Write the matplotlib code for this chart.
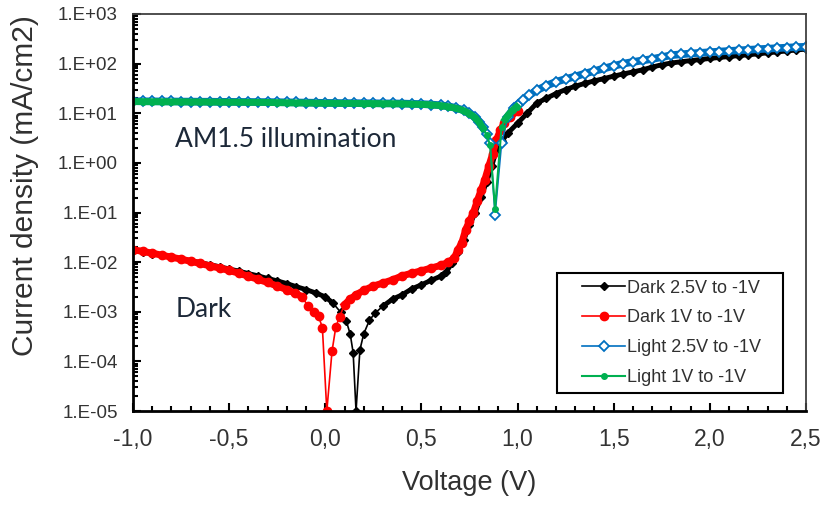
import numpy as np
import matplotlib
matplotlib.use('Agg')
import matplotlib.pyplot as plt
from matplotlib.patches import Rectangle
from matplotlib.ticker import LogLocator, MultipleLocator, FuncFormatter, NullFormatter

plt.rcParams['font.family'] = ['Liberation Sans', 'DejaVu Sans']

# Dark, sweep 2.5 V to -1 V
v_dark25 = [-1.0, -0.95, -0.9, -0.85, -0.8, -0.75, -0.7, -0.65, -0.6, -0.55, -0.5, -0.45,
            -0.4, -0.35, -0.3, -0.25, -0.2, -0.15, -0.1, -0.05, 0.0, 0.04, 0.08, 0.11, 0.13,
            0.145, 0.16, 0.18, 0.2, 0.23, 0.26, 0.3, 0.35, 0.4, 0.45, 0.5, 0.55, 0.6, 0.63,
            0.66, 0.69, 0.72, 0.75, 0.78, 0.81, 0.84, 0.865, 0.89, 0.92, 0.95, 1.0, 1.05, 1.1,
            1.15, 1.2, 1.25, 1.3, 1.35, 1.4, 1.45, 1.5, 1.55, 1.6, 1.65, 1.7, 1.75, 1.8, 1.85,
            1.9, 1.95, 2.0, 2.05, 2.1, 2.15, 2.2, 2.25, 2.3, 2.35, 2.4, 2.45, 2.5]
j_dark25 = [0.0175, 0.0160, 0.0148, 0.0137, 0.0127, 0.0117, 0.0107, 0.0098, 0.0089, 0.0081,
            0.0073, 0.0066, 0.0059, 0.0053, 0.0047, 0.0042, 0.0037, 0.0032, 0.0028, 0.0024,
            0.0020, 0.0015, 0.00098, 0.00064, 0.00035, 0.00015, 0.00001, 0.00017, 0.00036,
            0.00068, 0.00095, 0.0013, 0.0018, 0.0022, 0.0029, 0.0035, 0.0043, 0.0052, 0.0064,
            0.0098, 0.016, 0.028, 0.055, 0.10, 0.21, 0.42, 0.85, 1.8, 2.8, 4.0, 6.3, 10, 16,
            20, 25, 30, 35, 40, 45, 50, 56, 62, 68, 75, 85, 95, 103, 109, 115, 121, 127, 133,
            139, 145, 151, 157, 165, 172, 180, 188, 196]

# Dark, sweep 1 V to -1 V
v_dark1 = [-1.0, -0.95, -0.9, -0.85, -0.8, -0.75, -0.7, -0.65, -0.6, -0.55, -0.5, -0.45, -0.4,
           -0.35, -0.3, -0.25, -0.2, -0.16, -0.12, -0.09, -0.06, -0.035, -0.015, 0.008, 0.035,
           0.055, 0.075, 0.1, 0.13, 0.16, 0.2, 0.25, 0.3, 0.35, 0.4, 0.45, 0.5, 0.55, 0.6,
           0.64, 0.67, 0.69, 0.71, 0.73, 0.75, 0.77, 0.79, 0.81, 0.83, 0.85, 0.87, 0.89, 0.91,
           0.93, 0.96, 1.0]
j_dark1 = [0.0178, 0.0165, 0.0152, 0.0138, 0.0126, 0.0115, 0.0104, 0.0094, 0.0084, 0.0076,
           0.0068, 0.0060, 0.0052, 0.0045, 0.0039, 0.0033, 0.0028, 0.0024, 0.0020, 0.0013,
           0.0010, 0.00081, 0.00048, 0.00001, 0.00016, 0.0005, 0.0008, 0.0014, 0.0018, 0.0022,
           0.0027, 0.0033, 0.0038, 0.0044, 0.0053, 0.0060, 0.0067, 0.0076, 0.0086, 0.0100,
           0.012, 0.0178, 0.0245, 0.045, 0.068, 0.098, 0.17, 0.28, 0.46, 0.85, 1.5, 2.9, 4.5,
           6.3, 8.5, 11]

# Light (AM1.5), sweep 2.5 V to -1 V
v_light25 = [-1.0, -0.95, -0.9, -0.85, -0.8, -0.75, -0.7, -0.65, -0.6, -0.55, -0.5, -0.45,
             -0.4, -0.35, -0.3, -0.25, -0.2, -0.15, -0.1, -0.05, 0.0, 0.05, 0.1, 0.15, 0.2,
             0.25, 0.3, 0.35, 0.4, 0.45, 0.5, 0.55, 0.6, 0.64, 0.68, 0.72, 0.75, 0.78, 0.8,
             0.82, 0.84, 0.857, 0.883, 0.917, 0.95, 0.98, 1.0, 1.03, 1.06, 1.1, 1.15, 1.2, 1.25,
             1.3, 1.35, 1.4, 1.45, 1.5, 1.55, 1.6, 1.65, 1.7, 1.75, 1.8, 1.85, 1.9, 1.95, 2.0,
             2.05, 2.1, 2.15, 2.2, 2.25, 2.3, 2.35, 2.4, 2.45, 2.5]
j_light25 = [17.5, 17.4, 17.4, 17.3, 17.3, 17.2, 17.2, 17.1, 17.1, 17.0, 17.0, 16.9, 16.9,
             16.8, 16.8, 16.7, 16.6, 16.5, 16.4, 16.3, 16.2, 16.1, 16.0, 16.0, 15.9, 15.9,
             15.8, 15.8, 15.7, 15.5, 15.3, 15.0, 14.5, 13.8, 12.8, 11.5, 10.0, 8.3, 6.8, 5.2,
             3.8, 2.5, 0.091, 2.5, 8.5, 13, 15, 18.6, 23, 29, 36, 43, 49, 55, 63, 71, 80, 90,
             100, 108, 116, 124, 135, 148, 154, 160, 165, 170, 175, 180, 185, 190, 195, 200,
             205, 210, 215, 219]

# Light (AM1.5), sweep 1 V to -1 V
v_light1 = [-1.0, -0.95, -0.9, -0.85, -0.8, -0.75, -0.7, -0.65, -0.6, -0.55, -0.5, -0.45,
            -0.4, -0.35, -0.3, -0.25, -0.2, -0.15, -0.1, -0.05, 0.0, 0.05, 0.1, 0.15, 0.2,
            0.25, 0.3, 0.35, 0.4, 0.45, 0.5, 0.55, 0.6, 0.64, 0.68, 0.72, 0.75, 0.78, 0.8,
            0.82, 0.84, 0.857, 0.883, 0.917, 0.935, 0.952, 0.975, 0.995]
j_light1 = [17.2, 17.2, 17.1, 17.1, 17.0, 17.0, 16.9, 16.9, 16.8, 16.8, 16.7, 16.7, 16.6,
            16.6, 16.5, 16.4, 16.3, 16.2, 16.1, 16.0, 15.9, 15.9, 15.8, 15.8, 15.7, 15.7,
            15.6, 15.6, 15.5, 15.3, 15.1, 14.8, 14.3, 13.6, 12.6, 11.3, 9.8, 8.1, 6.6, 5.0,
            3.6, 2.3, 0.12, 5.4, 7.5, 9.3, 11.5, 13.5]

labels = ['Dark 2.5V to -1V', 'Dark 1V to -1V', 'Light 2.5V to -1V', 'Light 1V to -1V']
yticks = [1e-5, 1e-4, 1e-3, 1e-2, 1e-1, 1e0, 1e1, 1e2, 1e3]
xticks = [-1.0, -0.5, 0.0, 0.5, 1.0, 1.5, 2.0, 2.5]


def band(v, j, lo, hi):
    # hide the sparse dip part so the dense measurement looks like a thick band
    v = np.asarray(v, float)
    j = np.asarray(j, float).copy()
    j[(v > lo) & (v < hi)] = np.nan
    return v, j


fig = plt.figure(figsize=(8.23, 5.05), dpi=100)
ax = fig.add_axes([0.1616, 0.186, 0.8177, 0.7863])

# thick bands (dense data points)
ax.plot(*band(v_dark25, j_dark25, 0.07, 0.27), color='black', lw=3.5, zorder=2)
ax.plot(*band(v_dark1, j_dark1, -0.11, 0.09), color='#ff0000', lw=5, zorder=2.1)
ax.plot(*band(v_light25, j_light25, 0.83, 0.93), color='#0070c0', lw=5.5, zorder=2.2)
ax.plot(*band(v_light1, j_light1, 0.83, 0.93), color='#00b050', lw=5, zorder=2.3)

ax.plot(v_dark25, j_dark25, color='black', lw=1.2, marker='D', ms=4, zorder=2,
        label=labels[0])
ax.plot(v_dark1, j_dark1, color='#ff0000', lw=1.2, marker='o', ms=6, zorder=2.1,
        label=labels[1])
ax.plot(v_light25, j_light25, color='#0070c0', lw=1.2, marker='D', ms=5, mfc='white',
        mew=1.3, zorder=2.2, label=labels[2])
ax.plot(v_light1, j_light1, color='#00b050', lw=1.5, marker='o', ms=4, zorder=2.3,
        label=labels[3])

ax.set_yscale('log')
ax.set_xlim(-1.0, 2.5)
ax.set_ylim(1e-5, 1e3)
ax.set_yticks(yticks)
ax.yaxis.set_minor_locator(LogLocator(base=10, subs=np.arange(2, 10), numticks=20))
ax.yaxis.set_minor_formatter(NullFormatter())
ax.yaxis.set_major_formatter(FuncFormatter(lambda y, p: '1.E%+03d' % int(round(np.log10(y)))))
ax.set_xticks(xticks)
ax.xaxis.set_minor_locator(MultipleLocator(0.1))
ax.xaxis.set_major_formatter(FuncFormatter(lambda x, p: ('%.1f' % x).replace('.', ',')))

ax.tick_params(which='both', direction='in', top=False, right=False, width=1.5,
               labelcolor='#333333')
ax.tick_params(which='major', length=6)
ax.tick_params(which='minor', length=3.5)
ax.tick_params(axis='x', labelsize=16.5, pad=12)
ax.tick_params(axis='y', labelsize=13.5, pad=11)

for s in ['left', 'bottom']:
    ax.spines[s].set_linewidth(2)
for s in ['top', 'right']:
    ax.spines[s].set_linewidth(1.3)
    ax.spines[s].set_color('#404040')

ax.set_xlabel('Voltage (V)', fontsize=19.5, labelpad=14, color='#303030')
ax.set_ylabel('Current density (mA/cm2)', fontsize=21.5, color='#303030')
ax.yaxis.set_label_coords(-0.139, 0.567)

ax.text(-0.78, 3.0, 'AM1.5 illumination', fontsize=19, family='Lato', color='#1c2838',
        va='center')
ax.text(-0.78, 1.1e-3, 'Dark', fontsize=19, family='Lato', color='#1c2838', va='center')

leg = ax.legend(loc='lower right', bbox_to_anchor=(0.944, 0.045), borderaxespad=0,
                fontsize=13, frameon=False, handlelength=2.4, handletextpad=0.1,
                labelspacing=0.71)
for t in leg.get_texts():
    t.set_color('#303030')
# legend frame, wider on the left than matplotlib's own padding
ax.add_patch(Rectangle((0.630, 0.045), 0.336, 0.302, transform=ax.transAxes, fill=False,
                       edgecolor='black', lw=1.5, zorder=5))

fig.savefig('out.png', dpi=100)
